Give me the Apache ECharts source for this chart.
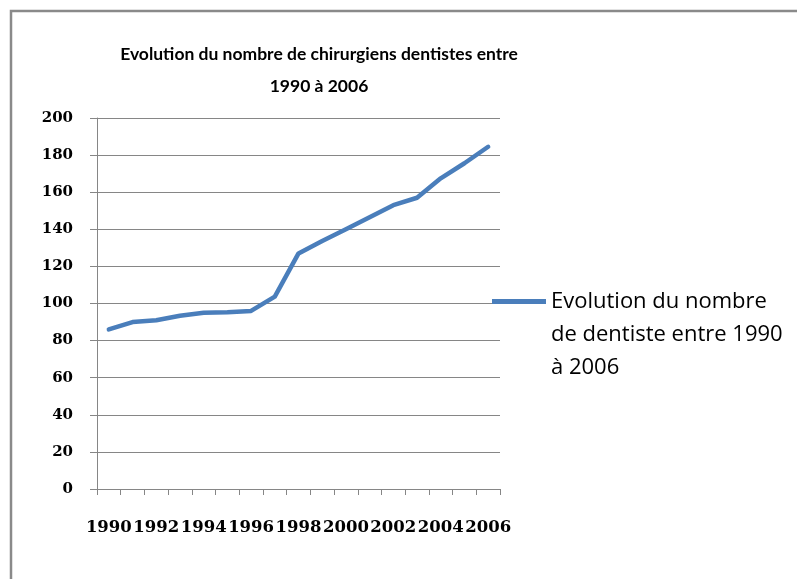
<!DOCTYPE html>
<html>
<head>
<meta charset="utf-8">
<script src="https://cdn.jsdelivr.net/npm/echarts@6/dist/echarts.min.js"></script>
<style>
  html, body { margin: 0; padding: 0; background: #fff; }
  #chart { width: 797px; height: 579px; }
</style>
</head>
<body>
<div id="chart"></div>
<script type="text/javascript">
  // données
  var annees = ['1990', '1991', '1992', '1993', '1994', '1995', '1996', '1997', '1998',
                '1999', '2000', '2001', '2002', '2003', '2004', '2005', '2006'];
  var dentistes = [86, 90, 91, 93.4, 95, 95.3, 96, 103.7, 127, 133.7, 140, 146.5, 153, 157, 167.5, 175.6, 184.5];
  var serieNom = 'Evolution du nombre\nde dentiste entre 1990\nà 2006';
  var titre = 'Evolution du nombre de chirurgiens dentistes entre\n1990 à 2006';

  var myChart = echarts.init(document.getElementById('chart'));
  var bleu = '#4a7ebb';
  var gris = '#868686';

  var option = {
    animation: false,
    title: {
      text: titre,
      left: 314,
      textAlign: 'center',
      top: 33,
      textStyle: {
        fontFamily: 'Lato',
        fontWeight: 'bold',
        fontSize: 17.5,
        lineHeight: 32,
        color: '#000'
      }
    },
    graphic: [{
      type: 'rect',
      shape: { x: 11, y: 11, width: 800, height: 600 },
      style: { fill: 'none', stroke: '#8a8a8a', lineWidth: 2.5 },
      silent: true
    }],
    legend: {
      data: [serieNom],
      left: 487,
      top: 214,
      orient: 'vertical',
      itemWidth: 54,
      itemHeight: 5,
      icon: 'rect',
      // deux lignes vides devant pour aligner le trait sur la première ligne
      formatter: function (name) { return '\n\n' + name; },
      textStyle: {
        fontFamily: 'Open Sans',
        fontSize: 22,
        lineHeight: 33,
        color: '#000'
      }
    },
    grid: {
      left: 97,
      right: 297,
      top: 118,
      bottom: 90
    },
    xAxis: {
      type: 'category',
      data: annees,
      boundaryGap: true,
      axisLine: { lineStyle: { color: gris, width: 1 } },
      axisTick: { show: true, interval: 0, length: 6, lineStyle: { color: gris } },
      axisLabel: {
        interval: 1,
        margin: 30,
        color: '#000',
        fontFamily: 'DejaVu Serif',
        fontWeight: 'bold',
        fontSize: 16.5
      },
      splitLine: { show: false }
    },
    yAxis: {
      type: 'value',
      min: 0,
      max: 200,
      interval: 20,
      axisLine: { show: true, lineStyle: { color: gris, width: 1 } },
      axisTick: { show: true, length: 7, lineStyle: { color: gris } },
      axisLabel: {
        margin: 24,
        color: '#000',
        fontFamily: 'DejaVu Serif',
        fontWeight: 'bold',
        fontSize: 15
      },
      splitLine: { show: true, lineStyle: { color: gris, width: 1 } }
    },
    series: [{
      name: serieNom,
      type: 'line',
      data: dentistes,
      showSymbol: false,
      symbol: 'none',
      lineStyle: { color: bleu, width: 4.5, cap: 'round', join: 'round' },
      itemStyle: { color: bleu }
    }]
  };

  myChart.setOption(option);
</script>
</body>
</html>
